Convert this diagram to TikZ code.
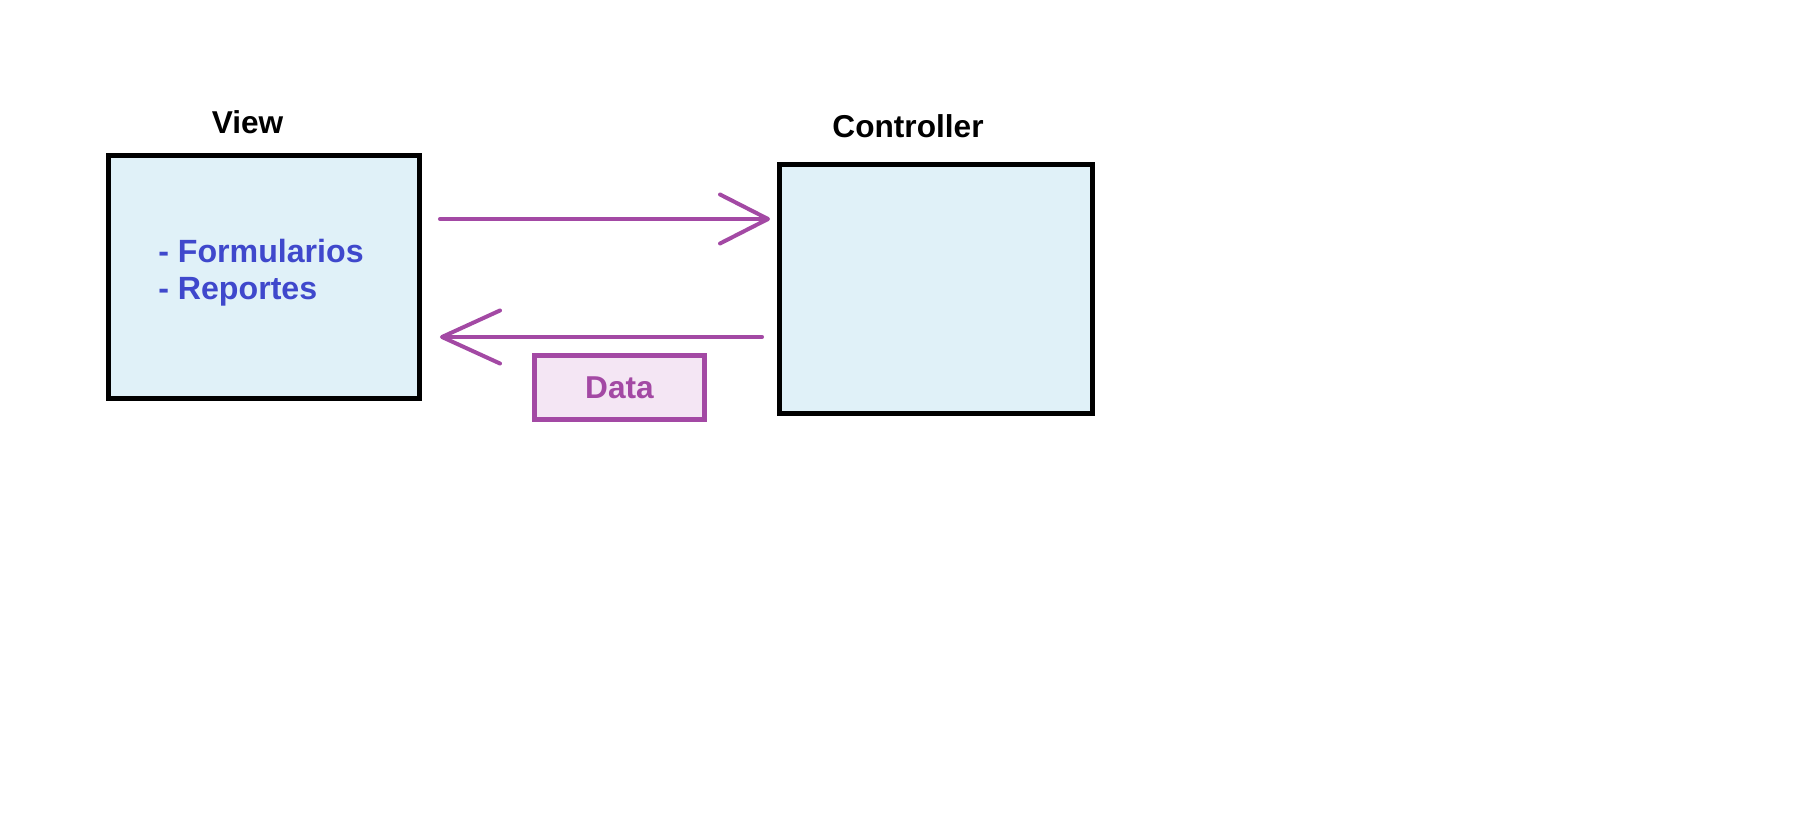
\documentclass[tikz,border=0pt]{standalone}
\usepackage{fontspec}
\setmainfont{Liberation Sans}
\usepackage{tikz}
\usepackage{xcolor}
\usetikzlibrary{positioning, calc, arrows.meta}

\definecolor{boxblue}{HTML}{E0F1F8}
\definecolor{itemblue}{HTML}{3F48CC}
\definecolor{flowpurple}{HTML}{A349A4}
\definecolor{datafill}{HTML}{F4E6F4}

\tikzset{
    layer/.style={draw, line width=1mm, fill=boxblue, minimum width=6.22cm, minimum height=4.86cm},
    title/.style={anchor=base, font=\fontsize{18}{20}\selectfont\bfseries},
    flow/.style={draw=flowpurple, line width=0.8mm, line cap=round, line join=round,
        -{Straight Barb[length=9.6mm, width=9.8mm, line cap=round, line join=round]}}
}

\begin{document}
\begin{tikzpicture}[x=0.02cm, y=-0.02cm]
        \useasboundingbox (0,0) rectangle (1794,813);
        \node[layer] (view) at (264,277) {};
        \node[layer, minimum width=6.26cm, minimum height=4.98cm] (controller) at (936,289) {};
        \node[title] (viewlbl) at (247.5,134) {View};
        \node[title] (controllerlbl) at (908,138) {Controller};
        \node[align=left, text=itemblue, font=\fontsize{18.3}{21.2}\selectfont\bfseries] (viewitems) at (261,272.5) {- Formularios\\- Reportes};
        \node[draw=flowpurple, line width=0.9mm, fill=datafill, text=flowpurple, font=\fontsize{18}{20}\selectfont\bfseries,
            minimum width=3.4cm, minimum height=1.28cm] (data) at (619.5,387.5) {Data};
        \draw[flow, shorten <=3.6mm, shorten >=1.4mm] (view.east |- 0,219) -- (controller.west |- 0,219);
        \draw[flow, shorten <=3mm, shorten >=3.6mm, -{Straight Barb[length=11.6mm, width=10.6mm, line cap=round, line join=round]}]
            (controller.west |- 0,337) -- (view.east |- 0,337);
    \end{tikzpicture}
\end{document}
